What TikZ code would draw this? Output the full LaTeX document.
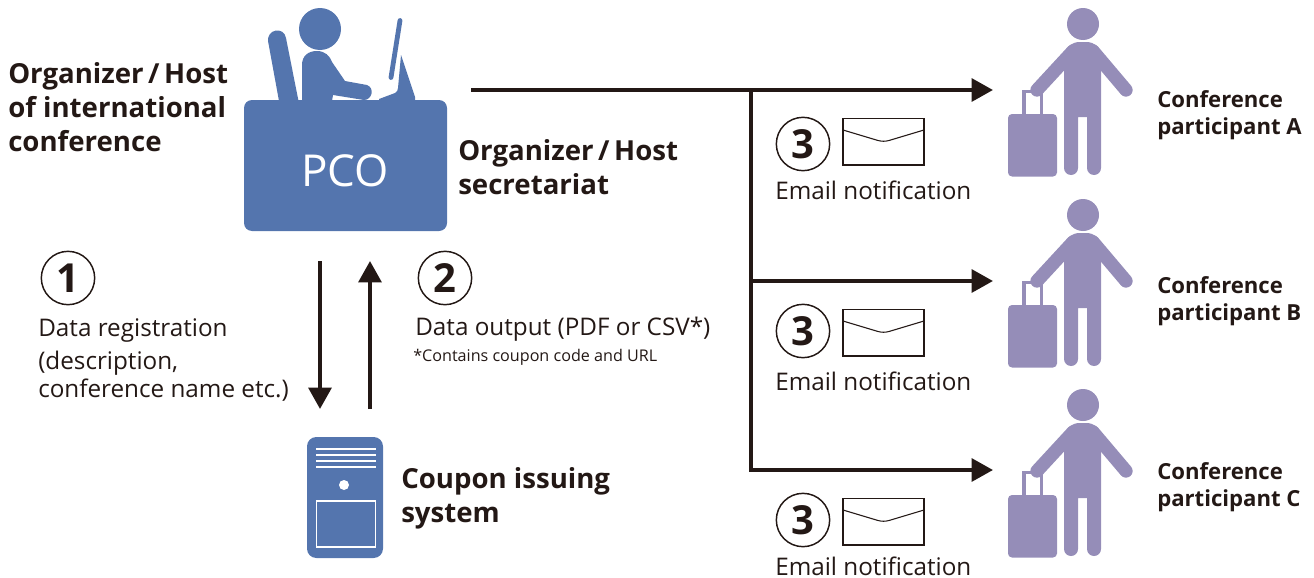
\documentclass[tikz,border=0pt]{standalone}
\usepackage{fontspec}
\setmainfont{Open Sans}
\usetikzlibrary{arrows.meta}
\definecolor{pcoblue}{HTML}{5475AE}
\definecolor{guest}{HTML}{958DB8}
\definecolor{ink}{HTML}{231815}
\tikzset{
  x=0.75pt,y=-0.75pt,
  lbl/.style={inner sep=0pt,anchor=base west,text=ink,font=\fontsize{20.7}{25.5}\selectfont\bfseries,align=left},
  plbl/.style={inner sep=0pt,anchor=base west,text=ink,font=\fontsize{16.6}{20.25}\selectfont\bfseries,align=left},
  txt/.style={inner sep=0pt,anchor=base west,text=ink,font=\fontsize{18.2}{21}\selectfont,align=left},
  small/.style={inner sep=0pt,anchor=base west,text=ink,font=\fontsize{12.1}{14}\selectfont},
  num/.style={circle,draw=ink,line width=1.1pt,minimum size=40pt,inner sep=0pt,text=ink,font=\fontsize{30}{30}\selectfont\bfseries},
  wire/.style={draw=ink,line width=3pt},
  arr/.style={wire,-{Triangle[length=16pt,width=17pt]}},
  env/.style={draw=ink,line width=0.8pt,fill=white},
}
\newcommand{\traveller}[1]{%
  \begin{scope}[yshift=#1]
    \fill[guest] (1083,24) circle[radius=16];
    \fill[guest,rounded corners=3pt] (1008,114) rectangle (1057,176.5);
    \draw[guest,line width=2.4pt] (1024,114) -- (1024,91.5) -- (1041.5,91.5) -- (1041.5,114);
    \draw[guest,line width=10pt,line cap=round] (1073,51) -- (1037,90);
    \draw[guest,line width=10pt,line cap=round] (1093,51) -- (1126,90);
    \fill[guest] (1064,168) -- (1064,68) -- (1068,47) .. controls (1072,43) and (1076,42) .. (1080,42)
      -- (1086,42) .. controls (1090,42) and (1094,43) .. (1098,47) -- (1101,68) -- (1101,168)
      arc[start angle=0,end angle=180,radius=7] -- (1087,117) -- (1078,117) -- (1078,168)
      arc[start angle=0,end angle=180,radius=7] -- cycle;
  \end{scope}}
\newcommand{\envelope}[1]{%
  \begin{scope}[yshift=#1]
    \draw[env] (843,118.5) rectangle (924,165);
    \draw[ink,line width=0.8pt] (843,130) -- (878,140.5) .. controls (882,141.5) and (885,141.5) .. (889,140.5) -- (924,130);
  \end{scope}}
\begin{document}
\begin{tikzpicture}
\useasboundingbox (0,0) rectangle (1314,578);
% PCO figure
\fill[pcoblue] (320,29) circle[radius=21];
\fill[pcoblue] (279,101) -- (268.2,42) .. controls (266,29) and (284,26) .. (286,38) -- (298.5,101) -- cycle;
\fill[pcoblue] (302,101) -- (302,65) .. controls (302,56) and (308,51) .. (317,51) .. controls (325,51) and (330,56) .. (332,62) -- (345,81) -- (367,85)
  .. controls (375,88) and (372,100) .. (364,100) -- (333,95) -- (332,101) -- cycle;
\draw[pcoblue,line width=3.6pt,line cap=round] (400,20.5) -- (391,77.5);
\fill[pcoblue] (379,101) -- (379,99) -- (395,93) .. controls (397,92) and (398,90) .. (398,88) -- (401,55) -- (415,97) -- (415,101) -- cycle;
\node[fill=pcoblue,rounded corners=6pt,minimum width=152.25pt,minimum height=98.25pt,inner sep=0pt] (pco) at (345.5,165.5) {};
\node[inner sep=0pt,text=white,font=\fontsize{33}{33}\selectfont] (pcolabel) at (345,171) {PCO};
% labels top left
\node[lbl] (org) at (8,151) {Organizer\,/\,Host\\of international\\conference};
\node[lbl] (sec) at (458,194) {Organizer\,/\,Host\\secretariat};
% step 1/2
\node[num] (n1) at (68,278) {1};
\node[num] (n2) at (445,278) {2};
\node[txt] (t1) at (38,336) {Data registration};
\node[txt] (t1b) at (38,397) {(description,\\conference name etc.)};
\node[txt] (t2) at (415,335) {Data output (PDF or CSV*)};
\node[small] (t2b) at (413,361) {*Contains coupon code and URL};
% server
\node[fill=pcoblue,rounded corners=7pt,minimum width=57pt,minimum height=90.75pt,inner sep=0pt] (srv) at (345,497.5) {};
\foreach \yy in {449,455,461,467}{\draw[white,line width=1.2pt] (316,\yy) -- (376,\yy);}
\fill[white] (344,485) circle[radius=5];
\draw[white,line width=1.3pt] (316.5,501) rectangle (375.5,547);
\node[lbl] (srvl) at (401,522) {Coupon issuing\\system};
% vertical arrows
\coordinate (dTop) at (320,261); \coordinate (dBot) at (320,409);
\coordinate (uBot) at (370,409); \coordinate (uTop) at (370,261);
\draw[arr] (dTop) -- (dBot);
\draw[arr] (uBot) -- (uTop);
% tree
\coordinate (start) at (471,90);
\coordinate (j1) at (751,90); \coordinate (j2) at (751,281); \coordinate (j3) at (751,470);
\coordinate (pa) at (993,90); \coordinate (pb) at (993,281); \coordinate (pc) at (993,470);
\draw[arr] (start) -- (pa);
\draw[arr] (j2) -- (pb);
\draw[arr] ([yshift=1.1pt]j1) -- (j3) -- (pc);
% travellers
\traveller{0}
\traveller{-143.25pt}
\traveller{-285.75pt}
\node[plbl] (a) at (1157,134) {Conference\\participant A};
\node[plbl] (b) at (1157,320) {Conference\\participant B};
\node[plbl] (c) at (1157,506) {Conference\\participant C};
% notifications
\node[num] (n3a) at (803,144) {3};
\node[num] (n3b) at (803,331) {3};
\node[num] (n3c) at (803,520) {3};
\envelope{0}
\envelope{-143.25pt}
\envelope{-285pt}
\node[txt] (ea) at (775,199) {Email notification};
\node[txt] (eb) at (775,390) {Email notification};
\node[txt] (ec) at (775,575) {Email notification};
\end{tikzpicture}
\end{document}
